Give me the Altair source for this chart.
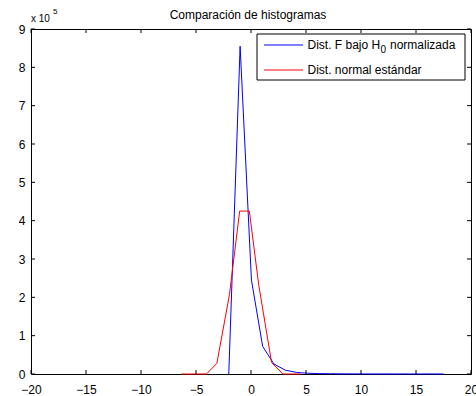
import altair as alt
import pandas as pd

# Blue: normalized F distribution under H0 (histogram counts at bin centres)
f_x = [-2.02, -0.99, 0.04, 1.06, 2.09, 3.12, 4.15, 5.17, 6.2, 7.23, 8.26, 9.28,
       10.31, 11.34, 12.37, 13.39, 14.42, 15.45, 16.48, 17.5]
f_y = [0, 855000, 245000, 72000, 26000, 10000, 4000, 2000, 1000, 600, 400, 300,
       200, 200, 100, 100, 100, 100, 100, 100]

# Red: standard normal distribution
n_x = [-6.3, -5.2, -4.05, -3.1, -1.96, -1.03, -0.15, 0.7, 1.87, 2.9, 3.7, 4.5]
n_y = [0, 0, 0, 28000, 207000, 425000, 425000, 233000, 30000, 0, 0, 0]

x_ticks = [-20, -15, -10, -5, 0, 5, 10, 15, 20]
y_ticks = [0, 100000, 200000, 300000, 400000, 500000, 600000, 700000, 800000, 900000]

title_text = "Comparación de histogramas"
legend1_parts = ["Dist. F bajo H", "0", "normalizada"]
legend2_label = "Dist. normal estándar"
legend_colors = ["#0000ff", "#ff0000"]

W, H = 440, 345
FONT = "Liberation Sans"
FS = 12

df_f = pd.DataFrame({"x": f_x, "y": f_y})
df_n = pd.DataFrame({"x": n_x, "y": n_y})
df_xt = pd.DataFrame({"x": x_ticks})
df_yt = pd.DataFrame({"y": y_ticks})
one = pd.DataFrame({"a": [0]})

xs = alt.Scale(domain=[-20, 20], nice=False, zero=False)
ys = alt.Scale(domain=[0, 900000], nice=False)

x_axis = alt.Axis(values=x_ticks, title=None, labelPadding=10)
y_axis = alt.Axis(values=y_ticks, title=None, labelPadding=6,
                  labelExpr="format(datum.value / 100000, 'd')")

blue = alt.Chart(df_f).mark_line(color=legend_colors[0], strokeWidth=1).encode(
    x=alt.X("x:Q", scale=xs, axis=x_axis),
    y=alt.Y("y:Q", scale=ys, axis=y_axis),
)
red = alt.Chart(df_n).mark_line(color=legend_colors[1], strokeWidth=1).encode(
    x=alt.X("x:Q", scale=xs, axis=x_axis),
    y=alt.Y("y:Q", scale=ys, axis=y_axis),
)

tick_bottom = alt.Chart(df_xt).mark_rule(color="black", strokeWidth=1).encode(
    x=alt.X("x:Q", scale=xs, axis=x_axis), y=alt.value(H), y2=alt.value(H - 4))
tick_top = alt.Chart(df_xt).mark_rule(color="black", strokeWidth=1).encode(
    x=alt.X("x:Q", scale=xs, axis=x_axis), y=alt.value(0), y2=alt.value(4))
tick_left = alt.Chart(df_yt).mark_rule(color="black", strokeWidth=1).encode(
    y=alt.Y("y:Q", scale=ys, axis=y_axis), x=alt.value(0), x2=alt.value(4))
tick_right = alt.Chart(df_yt).mark_rule(color="black", strokeWidth=1).encode(
    y=alt.Y("y:Q", scale=ys, axis=y_axis), x=alt.value(W), x2=alt.value(W - 4))


def txt(text, x, y, size=FS, align="left", baseline="alphabetic"):
    return alt.Chart(one).mark_text(align=align, baseline=baseline, font=FONT,
                                    fontSize=size, color="black").encode(
        x=alt.value(x), y=alt.value(y), text=alt.value(text))


title_mark = txt(title_text, W / 2 - 3, -10, align="center")
exp_base = txt("x 10", 0, -7, size=10)
exp_pow = txt("5", 22, -15, size=8)

# Legend box
leg_box = alt.Chart(one).mark_rect(fill="white", stroke="black", strokeWidth=1).encode(
    x=alt.value(226), x2=alt.value(434), y=alt.value(5), y2=alt.value(51))
leg_layers = [leg_box]
for i, col in enumerate(legend_colors):
    yy = 16 + 25 * i
    leg_layers.append(alt.Chart(one).mark_rule(color=col, strokeWidth=1).encode(
        x=alt.value(233), x2=alt.value(272), y=alt.value(yy)))
leg_layers.append(txt(legend1_parts[0], 276.5, 16, baseline="middle"))
leg_layers.append(txt(legend1_parts[1], 349.5, 21, size=10, baseline="middle"))
leg_layers.append(txt(legend1_parts[2], 359, 16, baseline="middle"))
leg_layers.append(txt(legend2_label, 276.5, 41, baseline="middle"))

chart = alt.layer(
    blue, red, tick_bottom, tick_top, tick_left, tick_right, title_mark, exp_base, exp_pow,
    *leg_layers
).properties(
    width=W, height=H,
    autosize=alt.AutoSizeParams(type="none"),
    padding={"left": 31, "top": 29, "right": 5, "bottom": 22},
    background="white",
).configure_view(stroke="black", strokeWidth=1).configure_axis(
    ticks=False, domain=False, grid=False, labelFont=FONT, labelFontSize=FS,
    labelColor="black", labelFlush=False, labelOverlap=False, labelBound=False
)

chart.save("out.html", embed_options={"renderer": "svg", "actions": False})
